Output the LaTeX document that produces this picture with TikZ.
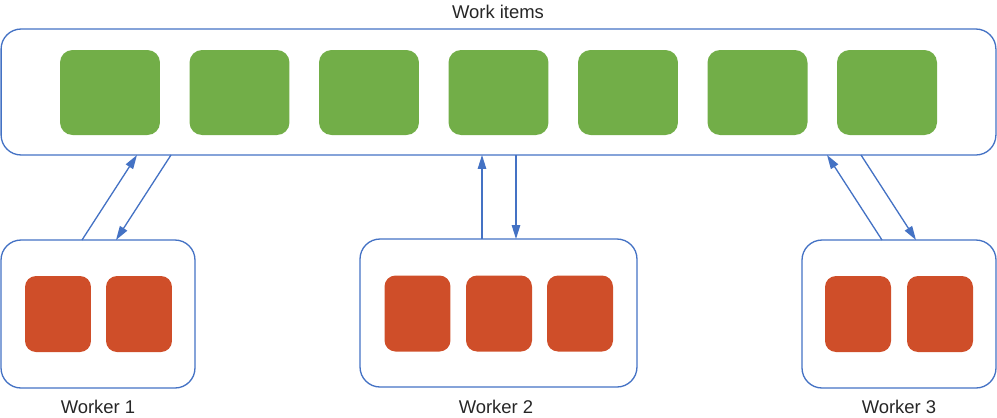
\documentclass[tikz,border=0pt]{standalone}
\usepackage{fontspec}
\setmainfont{Liberation Sans}
\usepackage{xcolor}
\usetikzlibrary{arrows.meta}

\definecolor{itemgreen}{HTML}{72AE48}
\definecolor{taskred}{HTML}{CF4E29}
\definecolor{frameblue}{HTML}{4472C4}
\definecolor{labelgray}{HTML}{262626}

\tikzset{
  frame/.style={draw=frameblue, line width=0.75pt, rounded corners=0.4cm, inner sep=0pt, outer sep=0pt},
  workitem/.style={fill=itemgreen, rounded corners=0.25cm, minimum width=2cm, minimum height=1.7cm, inner sep=0pt},
  task/.style={fill=taskred, rounded corners=0.22cm, minimum width=1.32cm, minimum height=1.52cm, inner sep=0pt},
  caption/.style={text=labelgray, font=\fontsize{10.5}{12}\selectfont},
  flow/.style={draw=frameblue, line width=0.75pt, -{Triangle[length=2.8mm,width=1.7mm]}}
}

\begin{document}
\begin{tikzpicture}[x=0.02cm,y=-0.02cm]
\useasboundingbox (0,0) rectangle (997,417);

% Work items
\node[frame, minimum width=19.9cm, minimum height=2.52cm] (items) at (498.5,92) {};
\node[caption] (itemslabel) at (498,12) {Work items};
\foreach \i in {0,...,6} {
  \node[workitem] (item\i) at (110+129.5*\i,92.5) {};
}

% Worker 1
\node[frame, minimum width=3.88cm, minimum height=2.96cm] (w1) at (98,314) {};
\node[task] (w1a) at (58,314) {};
\node[task] (w1b) at (139,314) {};
\node[caption] (w1label) at (98,407) {Worker 1};

% Worker 2
\node[frame, minimum width=5.54cm, minimum height=2.96cm] (w2) at (498.5,313) {};
\node[task] (w2a) at (417.5,313.5) {};
\node[task] (w2b) at (499,313.5) {};
\node[task] (w2c) at (580,313.5) {};
\node[caption] (w2label) at (496,407) {Worker 2};

% Worker 3
\node[frame, minimum width=3.88cm, minimum height=2.96cm] (w3) at (899,314) {};
\node[task] (w3a) at (858,314) {};
\node[task] (w3b) at (940,314) {};
\node[caption] (w3label) at (899,407) {Worker 3};

% arrows
\draw[flow] (w1.north -| 82,0) -- (items.south -| 137,0);
\draw[flow] (items.south -| 171,0) -- (w1.north -| 116,0);
\draw[flow] (w2.north -| 482,0) -- (items.south -| 482,0);
\draw[flow] (items.south -| 516,0) -- (w2.north -| 516,0);
\draw[flow] (w3.north -| 882,0) -- (items.south -| 827,0);
\draw[flow] (items.south -| 861,0) -- (w3.north -| 916,0);
\end{tikzpicture}
\end{document}
